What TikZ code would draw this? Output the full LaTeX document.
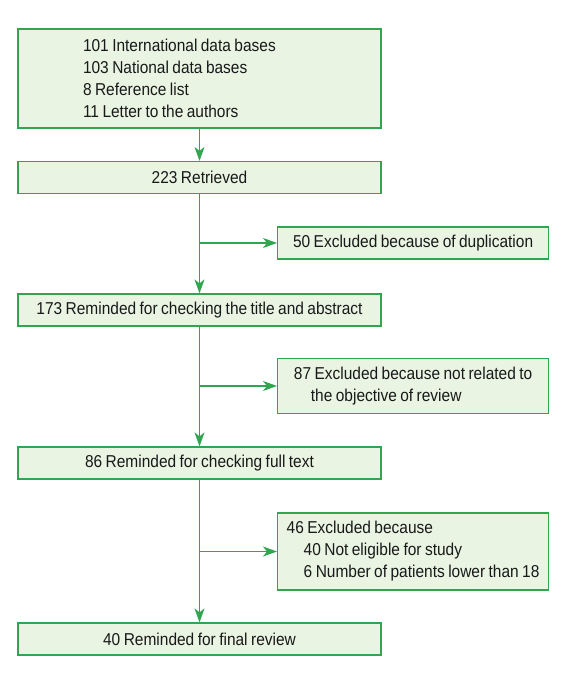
\documentclass[tikz,border=0pt]{standalone}
\usepackage{fontspec}
\setmainfont{Liberation Sans}[FakeStretch=0.9, WordSpace=0.8]
\usetikzlibrary{arrows.meta,positioning}

\definecolor{flowgreen}{RGB}{50,165,80}
\definecolor{boxfill}{RGB}{233,244,227}

\begin{document}
\begin{tikzpicture}[x=1pt,y=1pt,>={Stealth[length=14pt,width=10pt,inset=4pt]},
  box/.style={draw=flowgreen, fill=boxfill, text=black!90, line width=1.2pt,
    minimum width=363pt, minimum height=32pt, inner sep=0pt,
    font=\fontsize{17.2}{22}\selectfont},
  sidebox/.style={box, minimum width=271pt, align=left, anchor=west},
  link/.style={->, draw=flowgreen, line width=1.1pt}]

\useasboundingbox (0,0) rectangle (584,-676);

\node[box, minimum height=99pt, align=flush left, text width=233pt, inner xsep=65pt]
  (src) at (199.5,-78.5)
  {101 International data bases\\103 National data bases\\8 Reference list\\11 Letter to the authors};
\node[box] (retr)  at (199.5,-177.5) {223 Retrieved};
\node[box] (title) at (199.5,-310)   {173 Reminded for checking the title and abstract};
\node[box] (full)  at (199.5,-463)   {86 Reminded for checking full text};
\node[box] (final) at (199.5,-639)   {40 Reminded for final review};

\node[sidebox, inner xsep=13pt] (exdup) at (277,-243)
  {50 Excluded because of duplication};
\node[sidebox, minimum height=55pt, inner xsep=14pt] (exrel) at (277,-386)
  {87 Excluded because not related to\\\hspace*{17pt}the objective of review};
\node[sidebox, minimum height=77pt, inner xsep=7pt] (exelig) at (277,-551.5)
  {46 Excluded because\\\hspace*{17pt}40 Not eligible for study\\\hspace*{17pt}6 Number of patients lower than 18};

\coordinate (dup)  at (retr.south |- exdup.west);
\coordinate (rel)  at (title.south |- exrel.west);
\coordinate (elig) at (full.south |- exelig.west);

\draw[link] (src) -- (retr);
\draw[link] (retr) -- (title);
\draw[link] (title) -- (full);
\draw[link] (full) -- (final);

\draw[link] (dup) -- (exdup);
\draw[link] (rel) -- (exrel);
\draw[link] (elig) -- (exelig);
\end{tikzpicture}
\end{document}
